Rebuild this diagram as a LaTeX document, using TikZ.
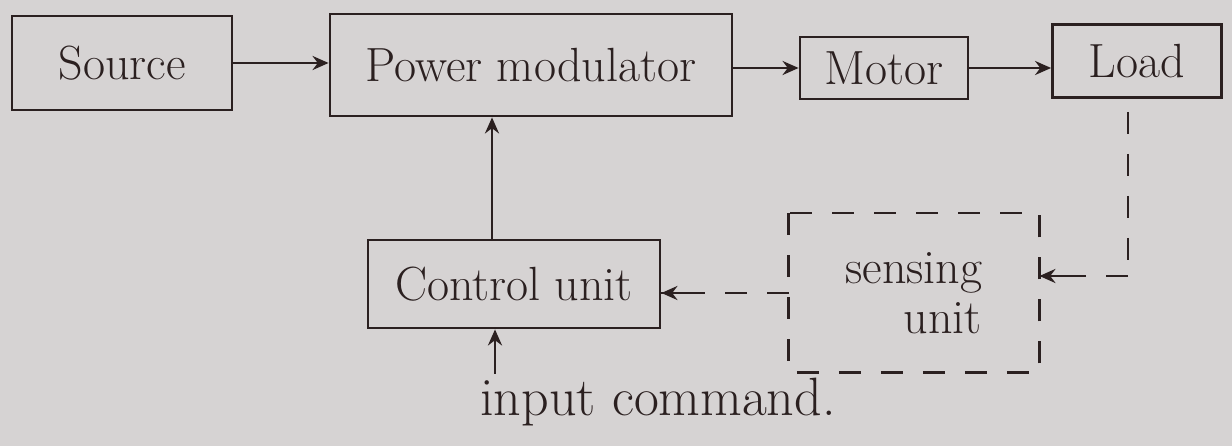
\documentclass[tikz,border=0pt]{standalone}
\usetikzlibrary{arrows.meta}
\definecolor{paper}{HTML}{D6D3D3}
\definecolor{ink}{HTML}{2B2020}
\begin{document}
\begin{tikzpicture}[x=1pt,y=-1pt,
  blk/.style={draw=ink,line width=2.8pt,inner sep=0pt,font=\fontsize{48}{50}\selectfont,text=ink},
  arr/.style={draw=ink,line width=2.8pt,-{Stealth[length=16pt,width=14pt]}},
  dsh/.style={draw=ink,line width=2.8pt,dash pattern=on 22pt off 20pt},
  lbl/.style={font=\fontsize{54}{56}\selectfont,text=ink}]
\fill[paper] (0,0) rectangle (1232,446);
\useasboundingbox (0,0) rectangle (1232,446);
\node[blk,minimum width=220pt,minimum height=94pt] (src) at (122,63) {Source};
\node[blk,minimum width=402pt,minimum height=102pt] (pm) at (531,65) {Power modulator};
\node[blk,minimum width=168pt,minimum height=62pt] (motor) at (884,68) {Motor};
\node[blk,minimum width=169pt,minimum height=73pt] (load) at (1137,61) {Load};
\node[blk,minimum width=292pt,minimum height=88pt] (cu) at (514,284) {Control unit};
\node[blk,draw=none,minimum width=248pt,minimum height=157pt,align=center] (sens) at (914,293) {sensing\\\hspace*{1.2em}unit};
\draw[dsh] (sens.north west) rectangle (sens.south east);
\node[lbl] (inc) at (658,402) {input command.};
\draw[arr] (src.east) -- (src.east -| pm.west);
\draw[arr] (pm.east |- motor.west) -- (motor.west);
\draw[arr] (motor.east) -- (motor.east -| load.west);
\draw[arr] ([xshift=-22pt]cu.north) -- ([xshift=-22pt]cu.north |- pm.south);
\coordinate (inp) at (495,374);
\draw[arr] (inp) -- (inp |- cu.south);
\coordinate (lt) at (1128,112);
\coordinate (lc) at (1128,276);
\draw[dsh] (lt) -- (lc);
\draw[dsh] (lc) -- (lc -| sens.east);
\draw[arr,shorten <=60pt] (lc) -- (lc -| sens.east);
\draw[dsh] (sens.west) -- (sens.west -| cu.east);
\draw[arr,shorten <=100pt] (sens.west) -- (sens.west -| cu.east);
\end{tikzpicture}
\end{document}
